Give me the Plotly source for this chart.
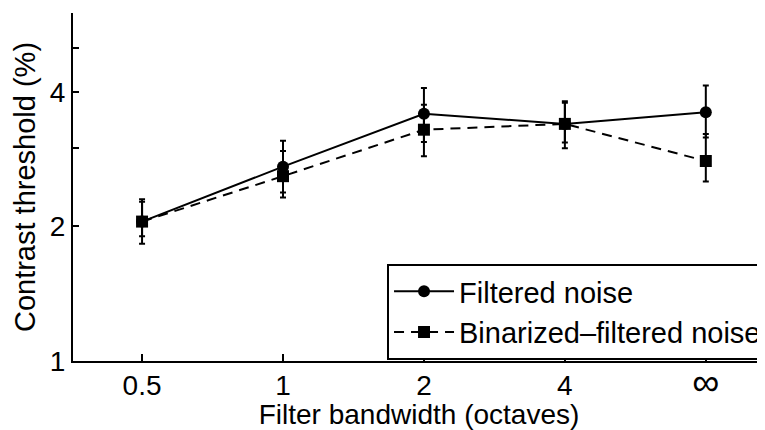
import plotly.graph_objects as go

# ---- data ----
bandwidth_labels = ["0.5", "1", "2", "4", "<span style='font-size:38px'>∞</span>"]
bandwidth_pos = [1, 2, 3, 4, 5]

filtered = [2.05, 2.72, 3.57, 3.39, 3.60]
filtered_hi = [2.30, 3.11, 4.08, 3.81, 4.13]
filtered_lo = [1.83, 2.38, 3.09, 3.08, 3.16]

binarized = [2.05, 2.59, 3.29, 3.39, 2.80]
binarized_hi = [2.27, 2.95, 3.74, 3.78, 3.22]
binarized_lo = [1.90, 2.32, 2.87, 2.99, 2.52]

y_tickvals = [1, 2, 3, 4, 5, 6]
y_ticktext = ["1", "2", "", "4", "", ""]

FONT = "Liberation Sans, Arial, Helvetica, sans-serif"


def err(vals, hi, lo):
    return dict(
        type="data",
        symmetric=False,
        array=[h - v for h, v in zip(hi, vals)],
        arrayminus=[v - l for v, l in zip(vals, lo)],
        color="black",
        thickness=2,
        width=3,
    )


fig = go.Figure()
fig.add_trace(go.Scatter(
    x=bandwidth_pos, y=filtered, name="Filtered noise",
    mode="lines+markers",
    line=dict(color="black", width=2),
    marker=dict(symbol="circle", size=12, color="black"),
    error_y=err(filtered, filtered_hi, filtered_lo),
))
fig.add_trace(go.Scatter(
    x=bandwidth_pos, y=binarized, name="Binarized\u2013filtered noise",
    mode="lines+markers",
    line=dict(color="black", width=2, dash="10px,7px"),
    marker=dict(symbol="square", size=12, color="black"),
    error_y=err(binarized, binarized_hi, binarized_lo),
))

fig.update_layout(
    width=757, height=422,
    margin=dict(l=65, r=0, t=5, b=69, autoexpand=False),
    paper_bgcolor="white", plot_bgcolor="white",
    font=dict(family=FONT, color="black", size=28),
    showlegend=True,
    legend=dict(
        x=0.4538, y=0.1409, xanchor="left", yanchor="middle",
        bordercolor="black", borderwidth=2, bgcolor="white",
        font=dict(size=29, family=FONT, color="black"),
        itemwidth=60,
        tracegroupgap=0,
    ),
    xaxis=dict(
        range=[0.51, 5.42],
        tickvals=bandwidth_pos, ticktext=bandwidth_labels,
        ticks="inside", ticklen=7, tickwidth=2, tickcolor="black",
        showline=True, linewidth=2, linecolor="black",
        showgrid=False, zeroline=False,
        tickfont=dict(size=28),
        ticklabelstandoff=-2,
        title=dict(text="Filter bandwidth (octaves)", font=dict(size=28), standoff=8),
    ),
    yaxis=dict(
        type="log", range=[0, 0.77815],
        tickvals=y_tickvals, ticktext=y_ticktext,
        ticks="inside", ticklen=6, tickwidth=2, tickcolor="black",
        showline=True, linewidth=2, linecolor="black",
        showgrid=False, zeroline=False,
        tickfont=dict(size=28),
        title=dict(text="Contrast threshold (%)", font=dict(size=29), standoff=6),
    ),
)

fig.write_html("out.html")
